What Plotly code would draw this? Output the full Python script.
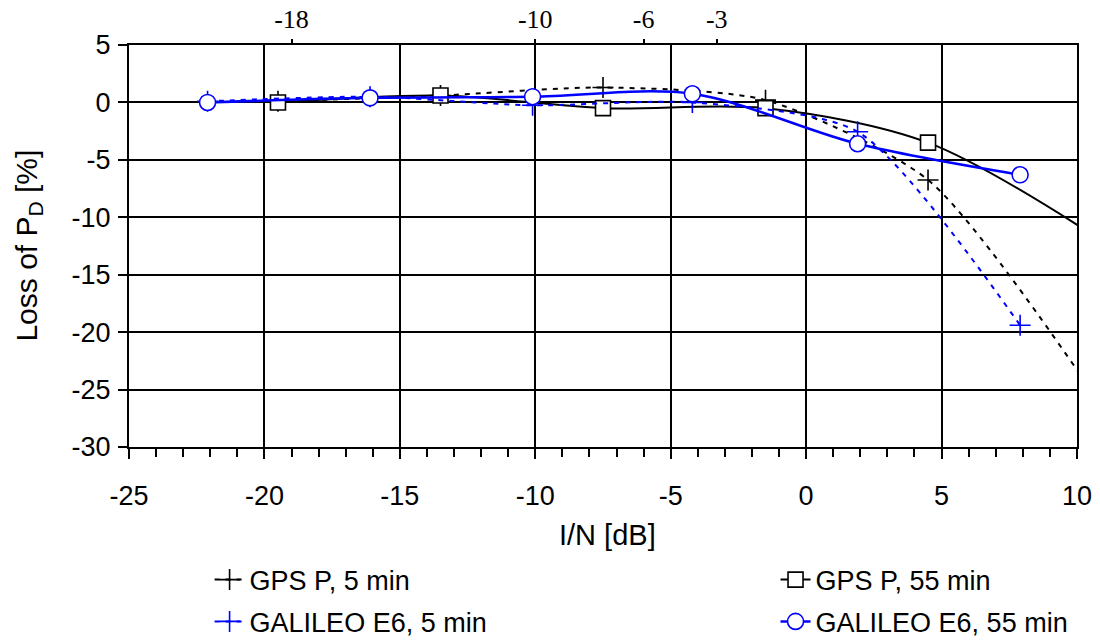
import plotly.graph_objects as go

# Interference-to-noise ratio (dB) at which each receiver was measured
gps_in = [-19.5, -13.5, -7.5, -1.5, 4.5, 10.5]
galileo_in = [-22.1, -16.1, -10.1, -4.2, 1.9, 7.9]

# Loss of detection probability (%)
gps_5min = [0.1, 0.6, 1.3, 0.2, -6.75, -25.0]
gps_55min = [0.0, 0.6, -0.5, -0.5, -3.5, -11.4]
galileo_5min = [0.1, 0.5, -0.25, 0.0, -2.55, -19.4]
galileo_55min = [0.0, 0.4, 0.5, 0.75, -3.6, -6.3]

series_names = ["GPS P, 5 min", "GPS P, 55 min",
                "GALILEO E6, 5 min", "GALILEO E6, 55 min"]

x_ticks = [-25, -20, -15, -10, -5, 0, 5, 10]
x_tick_text = ["-25", "-20", "-15", "-10", "-5", "0", "5", "10"]
y_ticks = [-30, -25, -20, -15, -10, -5, 0, 5]
y_tick_text = ["-30", "-25", "-20", "-15", "-10", "-5", "0", "5"]
top_tick_pos = [-19, -10, -6, -3.3]
top_tick_text = ["-18", "-10", "-6", "-3"]

BLUE = "#0000ff"
BLACK = "#000000"
SANS = "Liberation Sans, Arial, sans-serif"
SERIF = "Liberation Serif, Times New Roman, serif"

fig = go.Figure()

styles = [
    dict(x=gps_in, y=gps_5min, color=BLACK, dash="5px,6px", width=2,
         smooth=0.7, symbol="cross-thin", size=15, legend="legend"),
    dict(x=gps_in, y=gps_55min, color=BLACK, dash="solid", width=2,
         smooth=0.9, symbol="square", size=15, legend="legend2"),
    dict(x=galileo_in, y=galileo_5min, color=BLUE, dash="5px,6px", width=2,
         smooth=0.7, symbol="cross-thin", size=15, legend="legend3"),
    dict(x=galileo_in, y=galileo_55min, color=BLUE, dash="solid", width=2.5,
         smooth=0.9, symbol="circle", size=16, legend="legend4"),
]

for name, st in zip(series_names, styles):
    fig.add_trace(go.Scatter(
        x=st["x"], y=st["y"], name=name, mode="lines+markers",
        line=dict(color=st["color"], width=st["width"], dash=st["dash"],
                  shape="spline", smoothing=st["smooth"]),
        marker=dict(symbol=st["symbol"], size=st["size"], color="white",
                    line=dict(color=st["color"], width=1.6)),
        legend=st["legend"],
    ))

# empty trace so the secondary top axis gets drawn
fig.add_trace(go.Scatter(x=[None], y=[None], xaxis="x2", showlegend=False,
                         hoverinfo="skip"))

fig.update_layout(
    width=1100, height=642,
    paper_bgcolor="white", plot_bgcolor="white",
    margin=dict(l=129, r=23, t=45, b=195, autoexpand=False),
    showlegend=True,
    xaxis=dict(
        range=[-25, 10], tickvals=x_ticks, ticktext=x_tick_text,
        ticks="outside", ticklen=10,
        tickwidth=2, tickcolor=BLACK, showgrid=True, gridcolor=BLACK,
        gridwidth=2, showline=True, linecolor=BLACK, linewidth=2,
        mirror=True, zeroline=False, ticklabelstandoff=14,
        tickfont=dict(family=SANS, size=27, color=BLACK),
        minor=dict(dtick=1, ticks="outside", ticklen=8, tickwidth=2,
                   tickcolor=BLACK, showgrid=False),
    ),
    xaxis2=dict(
        overlaying="x", side="top", matches="x", range=[-25, 10],
        tickvals=top_tick_pos, ticktext=top_tick_text, ticks="outside",
        ticklen=5, tickwidth=2, tickcolor=BLACK, showgrid=False,
        showline=False, zeroline=False, ticklabelstandoff=1,
        tickfont=dict(family=SERIF, size=26, color=BLACK),
    ),
    yaxis=dict(
        range=[-30, 5], tickvals=y_ticks, ticktext=y_tick_text,
        ticks="outside", ticklen=9,
        tickwidth=2, tickcolor=BLACK, showgrid=True, gridcolor=BLACK,
        gridwidth=2, showline=True, linecolor=BLACK, linewidth=2,
        mirror=True, zeroline=False, ticklabelstandoff=2,
        tickfont=dict(family=SANS, size=27, color=BLACK),
    ),
    annotations=[
        dict(text="I/N [dB]", xref="paper", yref="paper", x=0.505,
             y=-0.219, xanchor="center", yanchor="middle", showarrow=False,
             font=dict(family=SANS, size=29, color=BLACK)),
        dict(text="Loss of P<sub>D</sub> [%]", xref="paper", yref="paper",
             x=-0.107, y=0.5, xanchor="center", yanchor="middle",
             textangle=-90, showarrow=False,
             font=dict(family=SANS, size=30, color=BLACK)),
    ],
)

legend_common = dict(orientation="h", xanchor="left", yanchor="middle",
                     bgcolor="rgba(0,0,0,0)", borderwidth=0,
                     font=dict(family=SANS, size=27, color=BLACK))
fig.update_layout(
    legend=dict(x=0.085, y=-0.331, **legend_common),
    legend2=dict(x=0.682, y=-0.331, **legend_common),
    legend3=dict(x=0.085, y=-0.435, **legend_common),
    legend4=dict(x=0.682, y=-0.435, **legend_common),
)

fig.write_html("out.html")
